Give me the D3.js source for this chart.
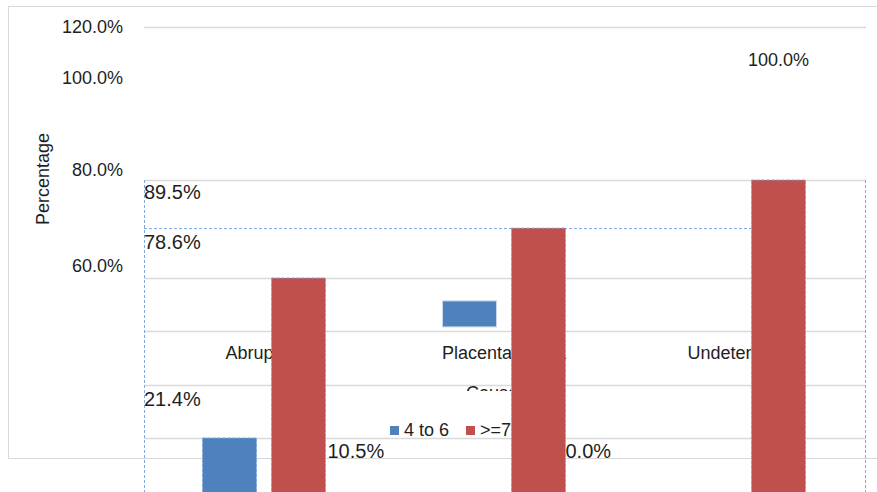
<!DOCTYPE html>
<html>
<head>
<meta charset="utf-8">
<script src="https://cdn.jsdelivr.net/npm/d3@7"></script>
<style>
  body { margin: 0; background: #fff; }
  svg { display: block; font-family: "Liberation Sans", Arial, sans-serif; }
</style>
</head>
<body>
<div id="chart"></div>
<script>
var categories = ['Abruption', 'Placenta previa', 'Undetermined']
var seriesNames = ['4 to 6', '>=7']
var lowValues = [21.4, 10.5, 0.0]    // 4 to 6
var highValues = [78.6, 89.5, 100.0] // >=7
var tickValues = [120, 100, 80, 60]
var tickLabels = ['120.0%', '100.0%', '80.0%', '60.0%']
var axisTitle = 'Percentage'
var xTitle = 'Cause'

var WIDTH = 877
var HEIGHT = 492
var BLUE = '#4f81bd'
var RED = '#c0504d'
var GRID = '#d9d9d9'
var SEL = '#7fa8e3'
var TEXT = '#1e1e1e'

var PLOT_LEFT = 144
var PLOT_RIGHT = 864
var PLOT_BOTTOM = 458
var GROUP_W = 123
// the reference is a broken render: gridlines sit where they sit
var GRID_Y = [27, 180, 278, 331, 385, 438]

var svg = d3.select('#chart').append('svg')
  .attr('width', WIDTH)
  .attr('height', HEIGHT)

var x0 = d3.scaleBand().domain(categories).range([PLOT_LEFT, PLOT_RIGHT])
var x1 = d3.scaleBand().domain(seriesNames).range([0, GROUP_W]).paddingInner(0.217)
var groupOfs = (x0.bandwidth() - GROUP_W) / 2
var yHigh = d3.scaleLinear().domain([0, 100]).range([638, 180])
var yLow = d3.scaleLinear().domain([0, 100]).range([536, 78])
var yTick = d3.scaleLinear().domain(tickValues).range([27, 78, 170, 266])

var barX = function (i, s) { return x0(categories[i]) + groupOfs + x1(s) }

// outer border
svg.append('rect')
  .attr('x', 8.5).attr('y', 6.5)
  .attr('width', 900).attr('height', PLOT_BOTTOM - 6)
  .attr('fill', 'none').attr('stroke', GRID)

// gridlines
svg.append('g').selectAll('line').data(GRID_Y).enter().append('line')
  .attr('x1', PLOT_LEFT).attr('x2', PLOT_RIGHT + 2)
  .attr('y1', function (d) { return d + 0.5 })
  .attr('y2', function (d) { return d + 0.5 })
  .attr('stroke', GRID).attr('stroke-width', 1.5)

// selection box (dashed)
var sel = svg.append('g')
  .attr('stroke', SEL).attr('stroke-dasharray', '3,2').attr('fill', 'none')
sel.append('line').attr('x1', PLOT_LEFT + 0.5).attr('x2', PLOT_LEFT + 0.5)
  .attr('y1', yHigh(100)).attr('y2', HEIGHT)
sel.append('line').attr('x1', PLOT_RIGHT + 1.5).attr('x2', PLOT_RIGHT + 1.5)
  .attr('y1', yHigh(100)).attr('y2', HEIGHT)
sel.append('line').attr('x1', PLOT_LEFT).attr('x2', barX(2, '>=7'))
  .attr('y1', yHigh(highValues[1]) + 0.5).attr('y2', yHigh(highValues[1]) + 0.5)

// y tick labels
svg.append('g').selectAll('text').data(tickValues).enter().append('text')
  .attr('x', 123)
  .attr('y', function (d) { return yTick(d) })
  .attr('dy', '0.36em')
  .attr('text-anchor', 'end')
  .attr('font-size', 18)
  .attr('fill', TEXT)
  .text(function (d, i) { return tickLabels[i] })

svg.append('text')
  .attr('transform', 'translate(49,179) rotate(-90)')
  .attr('text-anchor', 'middle')
  .attr('font-size', 18)
  .attr('fill', TEXT)
  .text(axisTitle)

// category labels
svg.append('g').selectAll('text').data(categories).enter().append('text')
  .attr('x', function (d) { return x0(d) + x0.bandwidth() / 2 })
  .attr('y', 359)
  .attr('text-anchor', 'middle')
  .attr('font-size', 18)
  .attr('fill', TEXT)
  .text(function (d) { return d })

// x title, mostly clipped away
svg.append('clipPath').attr('id', 'xclip').append('rect')
  .attr('x', 440).attr('y', 385).attr('width', 80).attr('height', 6)
svg.append('text')
  .attr('clip-path', 'url(#xclip)')
  .attr('x', x0(categories[1]) + x0.bandwidth() / 2 - 12)
  .attr('y', 399)
  .attr('text-anchor', 'middle')
  .attr('font-size', 18)
  .attr('fill', TEXT)
  .text(xTitle)

// data labels (>=7)
svg.append('g').selectAll('text').data(highValues).enter().append('text')
  .attr('x', function (d, i) { return i < 2 ? PLOT_LEFT : barX(i, '>=7') + x1.bandwidth() / 2 })
  .attr('y', function (d, i) { return i < 2 ? yHigh(d) - 29 : yHigh(d) - 114 })
  .attr('text-anchor', function (d, i) { return i < 2 ? 'start' : 'middle' })
  .attr('font-size', function (d, i) { return i < 2 ? 20 : 18 })
  .attr('fill', TEXT)
  .text(function (d) { return d.toFixed(1) + '%' })

// data labels (4 to 6)
svg.append('g').selectAll('text').data(lowValues).enter().append('text')
  .attr('x', function (d, i) { return i === 0 ? PLOT_LEFT : barX(i - 1, '>=7') + x1.bandwidth() + (i === 1 ? 2 : 0) })
  .attr('y', function (d, i) { return i === 0 ? yLow(d) - 32 : PLOT_BOTTOM })
  .attr('font-size', 20)
  .attr('fill', TEXT)
  .text(function (d) { return d.toFixed(1) + '%' })

// legend
var legend = svg.append('g').attr('transform', 'translate(390,426)')
var li = legend.selectAll('g').data(seriesNames).enter().append('g')
  .attr('transform', function (d, i) { return 'translate(' + i * 76 + ',0)' })
li.append('rect').attr('width', 9).attr('height', 9)
  .attr('fill', function (d, i) { return i ? RED : BLUE })
li.append('text').attr('x', 14).attr('y', 10)
  .attr('font-size', 18).attr('fill', TEXT)
  .text(function (d) { return d })

// blue bars
svg.append('g').selectAll('rect').data(lowValues).enter()
  .filter(function (d) { return d > 0 })
  .append('rect')
  .attr('x', function (d, i) { return barX(i, '4 to 6') })
  .attr('width', x1.bandwidth())
  // second bar comes out as a floating stub in the reference
  .attr('y', function (d, i) { return i === 1 ? yLow(d) - 187 : yLow(d) })
  .attr('height', function (d, i) { return i === 1 ? 26 : yLow(0) - yLow(d) })
  .attr('fill', BLUE)
  .attr('stroke', function (d, i) { return i === 1 ? '#c9d8ec' : SEL })
  .attr('stroke-dasharray', function (d, i) { return i === 1 ? null : '3,2' })

// red bars
svg.append('g').selectAll('rect').data(highValues).enter().append('rect')
  .attr('x', function (d, i) { return barX(i, '>=7') })
  .attr('width', x1.bandwidth())
  .attr('y', function (d) { return yHigh(d) })
  .attr('height', function (d) { return yHigh(0) - yHigh(d) })
  .attr('fill', RED)
  .attr('stroke', SEL)
  .attr('stroke-dasharray', '3,2')
</script>
</body>
</html>
